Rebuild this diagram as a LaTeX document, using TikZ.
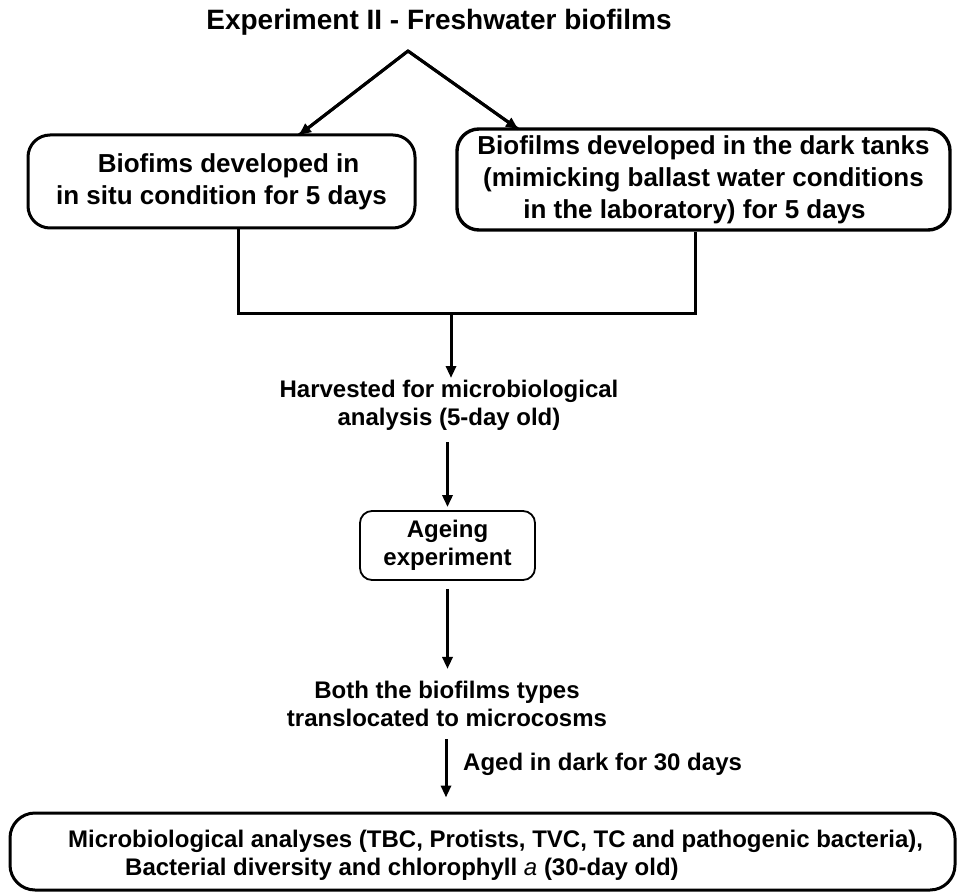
\documentclass[tikz,border=0pt]{standalone}
\usepackage{fontspec}
\setmainfont{Liberation Sans}
\usetikzlibrary{arrows.meta}
\begin{document}
\begin{tikzpicture}[x=1pt,y=-1pt,
  conn/.style={line width=3pt},
  arr/.style={conn,-{Triangle[length=12pt,width=10pt]}},
  bigbox/.style={draw, line width=3pt, rounded corners=22pt, align=center,
    font=\bfseries\fontsize{26}{32}\selectfont, inner sep=0pt},
  lbl/.style={align=center, font=\bfseries\fontsize{24}{28}\selectfont, inner sep=0pt}]
\useasboundingbox (0,0) rectangle (958,893);

\node[font=\bfseries\fontsize{28}{32}\selectfont, inner sep=0pt] (title) at (439,22) {Experiment II - Freshwater biofilms};

\node[bigbox, minimum width=387pt, minimum height=93pt] (left) at (221.5,181.5)
  {\hspace*{14pt}Biofims developed in\\in situ condition for 5 days};
\node[bigbox, line width=3.4pt, minimum width=493pt, minimum height=101pt] (right) at (703.5,179.5)
  {Biofilms developed in the dark tanks\\(mimicking ballast water conditions\\in the laboratory) for 5 days\hspace*{18pt}};

\coordinate (apex) at (408,51);
\coordinate (ltip) at (299,135);
\coordinate (rtip) at (518,129);
\draw[conn, line join=miter] (ltip) -- (apex) -- (rtip);
\draw[arr] (apex) -- (ltip);
\draw[arr] (apex) -- (rtip);

\coordinate (merge) at (451,313);
\draw[conn] ([xshift=16.5pt]left.south) |- (merge) -| ([xshift=-8.5pt]right.south);

\node[lbl] (harv) at (449,405) {Harvested for microbiological\\analysis (5-day old)};
\draw[arr] (merge) -- (merge |- 0,378);

\node[draw, line width=1.8pt, rounded corners=12pt, minimum width=175pt, minimum height=69pt,
  align=center, inner sep=0pt, font=\bfseries\fontsize{24}{28}\selectfont] (age) at (447.5,545.5)
  {Ageing\\experiment};
\draw[arr, shorten <=12pt, shorten >=3pt] (harv.south -| age.north) -- (age.north);

\node[lbl] (both) at (447,704) {Both the biofilms types\\translocated to microcosms};
\draw[arr, shorten <=8pt, shorten >=12pt] (age.south) -- (age.south |- both.north);

\node[draw, line width=3pt, rounded corners=25pt, minimum width=945pt, minimum height=77pt, inner sep=0pt]
  (bottom) at (482.5,851.5) {};
\node[lbl, anchor=base west] (b1) at (68,847)
  {Microbiological analyses (TBC, Protists, TVC, TC and pathogenic bacteria),};
\node[lbl, anchor=base west] (b2) at (125,875)
  {Bacterial diversity and chlorophyll {\mdseries\itshape a} (30-day old)};

\draw[arr, shorten <=12pt, shorten >=14pt] (both.south -| 446,0) -- (bottom.north -| 446,0);
\node[lbl, anchor=west] (aged) at (463,764) {Aged in dark for 30 days};
\end{tikzpicture}
\end{document}
